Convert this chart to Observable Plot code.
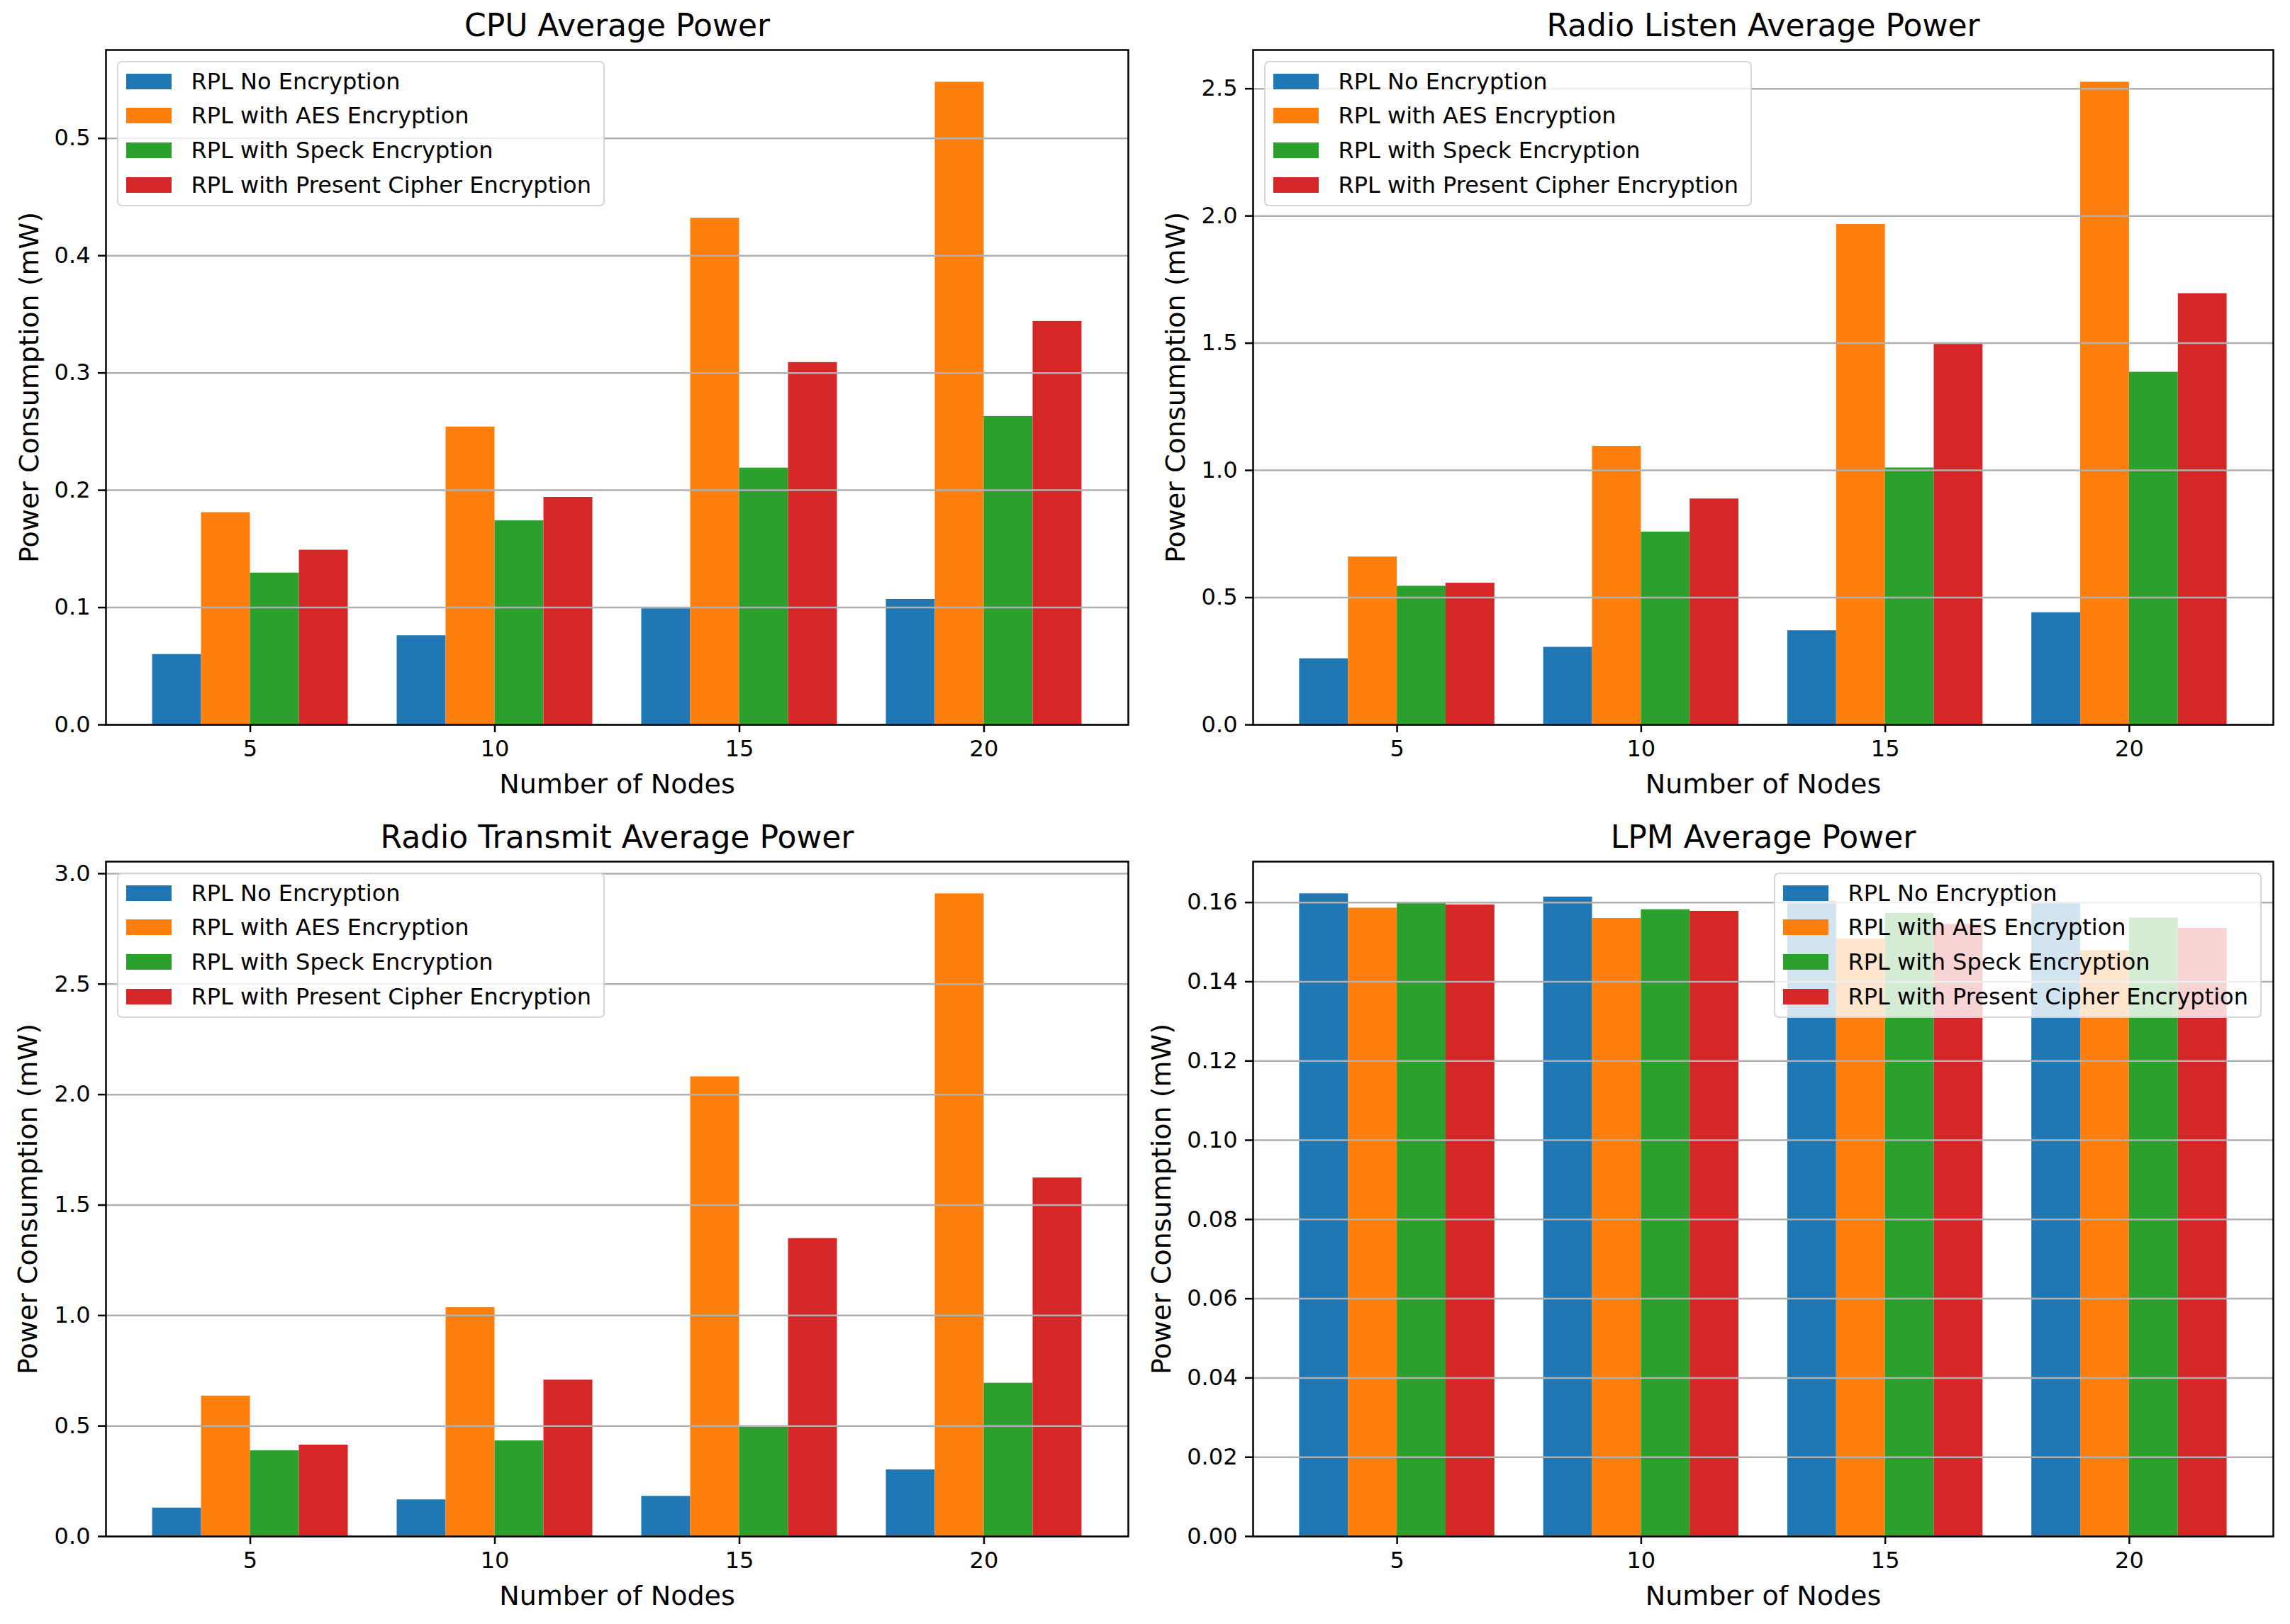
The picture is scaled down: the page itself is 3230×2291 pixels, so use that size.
<!DOCTYPE html>
<html><head><meta charset="utf-8">
<script src="https://cdn.jsdelivr.net/npm/d3@7"></script>
<script src="https://cdn.jsdelivr.net/npm/@observablehq/plot@0.6"></script>
<style>
html,body{margin:0;padding:0;background:#fff;}
#page{position:relative;width:3230px;height:2291px;font-family:"DejaVu Sans",sans-serif;overflow:hidden;}
.panel{position:absolute;width:1615px;height:1132px;}
.legend{position:absolute;box-sizing:border-box;width:688px;height:205px;background:rgba(255,255,255,0.8);border:2.5px solid rgba(204,204,204,0.8);border-radius:7px;}
.sw{position:absolute;left:10.5px;width:64px;height:22px;}
.lt{position:absolute;left:102.5px;height:40px;line-height:40px;font-size:32px;color:#000;white-space:nowrap;}
</style></head>
<body><div id="page"></div>
<script>
// ---- data ----
const nodes = [5, 10, 15, 20];
const seriesNames = ["RPL No Encryption", "RPL with AES Encryption", "RPL with Speck Encryption", "RPL with Present Cipher Encryption"];
const seriesColors = ["#1f77b4", "#ff7f0e", "#2ca02c", "#d62728"];

const cpuNone    = [0.060, 0.076, 0.099, 0.107];
const cpuAES     = [0.181, 0.254, 0.432, 0.548];
const cpuSpeck   = [0.1295, 0.174, 0.219, 0.263];
const cpuPresent = [0.149, 0.194, 0.309, 0.344];

const listenNone    = [0.260, 0.305, 0.370, 0.441];
const listenAES     = [0.660, 1.095, 1.967, 2.526];
const listenSpeck   = [0.545, 0.758, 1.010, 1.386];
const listenPresent = [0.557, 0.888, 1.496, 1.695];

const txNone    = [0.129, 0.166, 0.182, 0.302];
const txAES     = [0.636, 1.036, 2.081, 2.909];
const txSpeck   = [0.388, 0.433, 0.496, 0.694];
const txPresent = [0.414, 0.708, 1.349, 1.623];

const lpmNone    = [0.1622, 0.1614, 0.1603, 0.1601];
const lpmAES     = [0.1586, 0.1560, 0.1508, 0.1478];
const lpmSpeck   = [0.1600, 0.1582, 0.1573, 0.1561];
const lpmPresent = [0.1594, 0.1578, 0.1545, 0.1535];

const cpuTicks = [0, 0.1, 0.2, 0.3, 0.4, 0.5];
const listenTicks = [0, 0.5, 1.0, 1.5, 2.0, 2.5];
const txTicks = [0, 0.5, 1.0, 1.5, 2.0, 2.5, 3.0];
const lpmTicks = [0, 0.02, 0.04, 0.06, 0.08, 0.10, 0.12, 0.14, 0.16];

const xLabel = "Number of Nodes";
const yLabel = "Power Consumption (mW)";

// ---- panels ----
const panels = [
  {title: "CPU Average Power", series: [cpuNone, cpuAES, cpuSpeck, cpuPresent], ticks: cpuTicks, fmt: ".1f",
   left: 0, top: 0, ml: 149, mr: 24, ylabDx: -108, legend: "left"},
  {title: "Radio Listen Average Power", series: [listenNone, listenAES, listenSpeck, listenPresent], ticks: listenTicks, fmt: ".1f",
   left: 1615, top: 0, ml: 152, mr: 24, ylabDx: -109, legend: "left"},
  {title: "Radio Transmit Average Power", series: [txNone, txAES, txSpeck, txPresent], ticks: txTicks, fmt: ".1f",
   left: 0, top: 1145, ml: 149, mr: 24, ylabDx: -110, legend: "left"},
  {title: "LPM Average Power", series: [lpmNone, lpmAES, lpmSpeck, lpmPresent], ticks: lpmTicks, fmt: ".2f",
   left: 1615, top: 1145, ml: 152, mr: 24, ylabDx: -129, legend: "right"}
];

const page = document.getElementById("page");
const W = 1615, H = 1132, MT = 70, MB = 110;
const barW = 0.2;

for (const p of panels) {
  const rows = [];
  p.series.forEach((vals, si) => {
    vals.forEach((v, gi) => {
      const x1 = gi + (si - 2) * barW;
      rows.push({series: seriesNames[si], node: nodes[gi], x1, x2: x1 + barW, value: v});
    });
  });
  const ymax = d3.max(rows, d => d.value) * 1.05;
  const xmin = -2 * barW - 0.05 * (nodes.length - 1 + 4 * barW);
  const xmax = nodes.length - 1 + 2 * barW + 0.05 * (nodes.length - 1 + 4 * barW);

  const chart = Plot.plot({
    width: W, height: H,
    marginLeft: p.ml, marginRight: p.mr, marginTop: MT, marginBottom: MB,
    style: {fontFamily: "DejaVu Sans", fontSize: "32px", color: "black", background: "transparent", overflow: "visible"},
    x: {domain: [xmin, xmax], axis: null},
    y: {domain: [0, ymax], axis: null},
    color: {domain: seriesNames, range: seriesColors},
    marks: [
      Plot.rect(rows, {x1: "x1", x2: "x2", y1: 0, y2: "value", fill: "series"}),
      Plot.gridY(p.ticks, {stroke: "#b0b0b0", strokeOpacity: 1, strokeWidth: 2.5}),
      Plot.frame({stroke: "black", strokeWidth: 2.5}),
      Plot.axisX(nodes.map((n, i) => i), {tickFormat: i => String(nodes[i]), tickSize: 11, tickPadding: 11,
        strokeWidth: 2.5, fontSize: 32, label: null}),
      Plot.axisY(p.ticks, {tickFormat: d3.format(p.fmt), tickSize: 11, tickPadding: 11,
        strokeWidth: 2.5, fontSize: 32, label: null}),
      Plot.text([xLabel], {text: d => d, frameAnchor: "bottom", dy: 84, lineAnchor: "middle", fontSize: 38, fill: "black"}),
      Plot.text([yLabel], {text: d => d, frameAnchor: "left", dx: p.ylabDx, rotate: -90, lineAnchor: "middle", textAnchor: "middle", fontSize: 38, fill: "black"}),
      Plot.text([p.title], {text: d => d, frameAnchor: "top", dy: -34, lineAnchor: "middle", fontSize: 44, fill: "black"})
    ]
  });

  const div = document.createElement("div");
  div.className = "panel";
  div.style.left = p.left + "px";
  div.style.top = p.top + "px";
  div.appendChild(chart);
  page.appendChild(div);

  // legend (matplotlib style, inside axes)
  const lg = document.createElement("div");
  lg.className = "legend";
  const axLeft = p.left + p.ml, axRight = p.left + W - p.mr, axTop = p.top + MT;
  lg.style.top = (axTop + 16) + "px";
  lg.style.left = (p.legend === "left" ? axLeft + 16 : axRight - 16 - 688) + "px";
  seriesNames.forEach((name, i) => {
    const c = 26.5 + i * 48.7;
    const sw = document.createElement("div");
    sw.className = "sw";
    sw.style.top = (c - 11) + "px";
    sw.style.background = seriesColors[i];
    const t = document.createElement("div");
    t.className = "lt";
    t.style.top = (c - 20) + "px";
    t.textContent = name;
    lg.appendChild(sw);
    lg.appendChild(t);
  });
  page.appendChild(lg);
}
</script>
</body></html>
